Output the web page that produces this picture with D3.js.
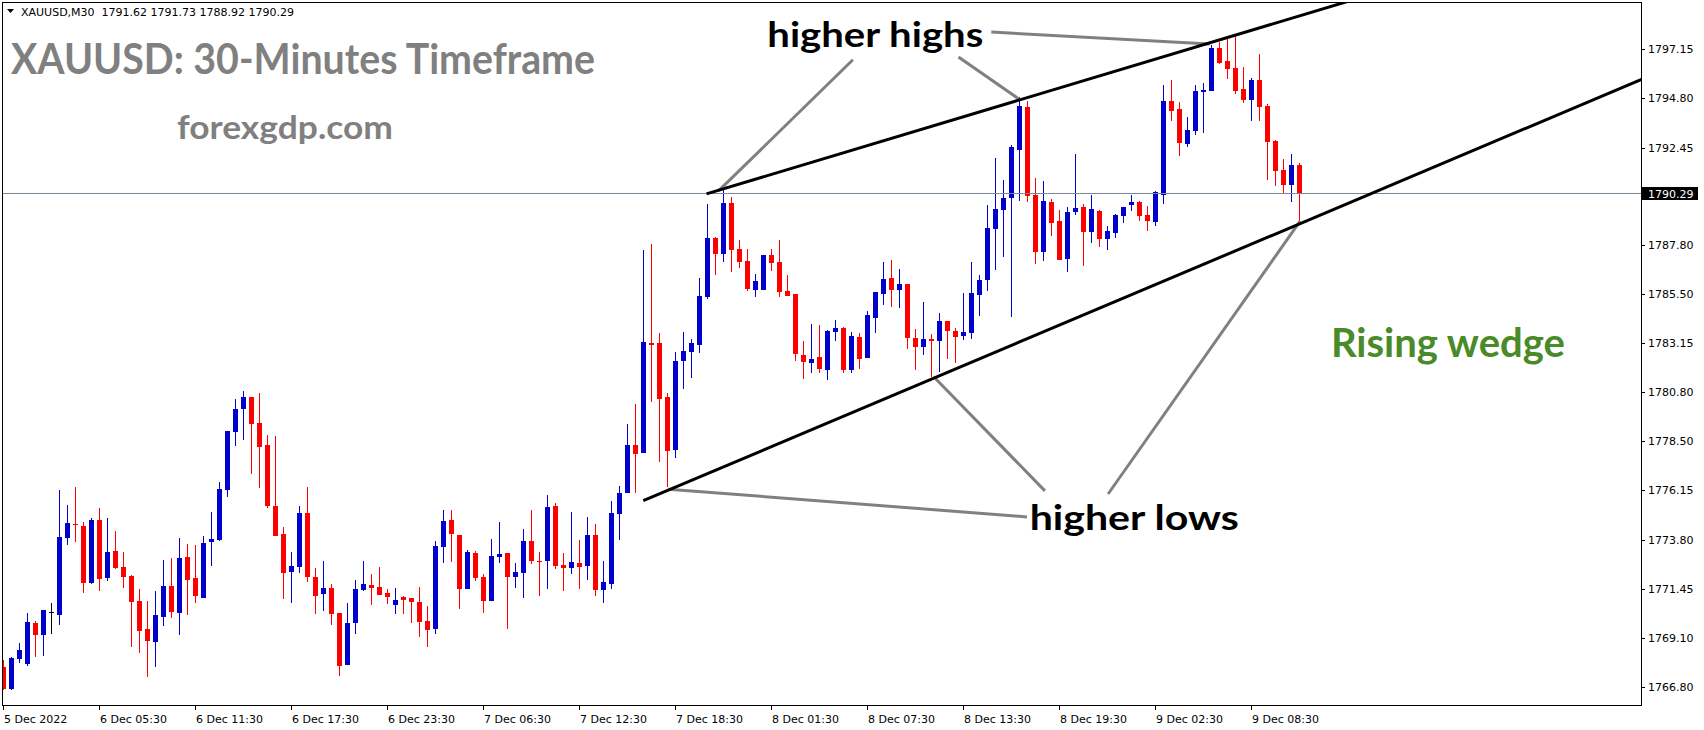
<!DOCTYPE html>
<html>
<head>
<meta charset="utf-8">
<script src="https://cdn.jsdelivr.net/npm/d3@7"></script>
<style>
html, body { margin: 0; padding: 0; background: #fff; }
svg { display: block; }
</style>
</head>
<body>
<svg id="chart" width="1704" height="730"></svg>
<script>
// XAUUSD M30 bars (bar 0 = first visible bar)
var opens = [1767.74,1766.71,1768.14,1767.90,1769.83,1769.28,1770.34,1770.23,1773.89,1774.56,
  1774.45,1771.72,1774.73,1771.99,1773.26,1772.50,1772.07,1770.88,1769.55,1768.94,
  1770.13,1771.59,1770.32,1772.97,1771.97,1771.04,1773.70,1773.78,1776.17,1778.93,
  1780.02,1780.59,1779.35,1778.31,1775.40,1774.07,1772.26,1772.50,1775.07,1772.03,
  1771.22,1771.50,1770.31,1767.84,1769.84,1771.41,1771.65,1771.55,1771.27,1770.69,
  1771.07,1771.03,1770.84,1769.93,1769.55,1773.45,1774.74,1774.02,1771.47,1773.17,
  1772.03,1770.90,1772.99,1773.17,1772.04,1772.23,1773.74,1772.79,1772.80,1775.40,
  1772.60,1772.47,1772.69,1772.56,1774.02,1771.42,1771.71,1775.04,1776.03,1778.28,
  1777.94,1783.14,1783.14,1780.58,1778.08,1782.31,1782.74,1783.08,1785.34,1788.15,
  1787.40,1789.82,1787.63,1787.06,1785.69,1785.69,1787.34,1787.02,1785.63,1785.49,
  1782.59,1782.22,1782.49,1781.89,1783.70,1783.87,1781.89,1783.44,1782.46,1784.36,
  1785.50,1786.25,1785.70,1785.96,1783.40,1782.98,1783.35,1783.27,1784.20,1783.73,
  1783.51,1783.65,1785.46,1786.16,1788.60,1789.50,1790.07,1792.35,1794.39,1790.20,
  1787.50,1789.86,1788.96,1787.17,1789.40,1789.61,1788.45,1789.44,1788.12,1788.40,
  1789.21,1789.74,1789.86,1789.25,1788.90,1790.22,1794.69,1794.29,1792.64,1793.26,
  1795.12,1795.16,1797.19,1796.57,1796.24,1795.24,1794.74,1795.67,1794.43,1792.77,
  1791.39,1790.69,1791.62];
var highs = [1768.07,1768.22,1768.88,1770.31,1769.93,1770.45,1770.78,1776.16,1775.45,1776.30,
  1774.64,1774.83,1775.30,1774.83,1774.21,1773.21,1772.12,1771.45,1770.88,1771.36,
  1772.83,1772.93,1773.88,1773.59,1773.54,1773.97,1775.11,1776.54,1778.97,1780.50,
  1780.88,1780.59,1780.78,1778.78,1778.74,1774.41,1773.22,1775.40,1776.31,1772.45,
  1772.79,1771.69,1770.31,1770.79,1771.88,1772.79,1772.17,1772.50,1771.46,1771.50,
  1771.12,1771.03,1771.55,1770.65,1773.74,1775.21,1775.21,1774.02,1773.31,1773.26,
  1772.17,1773.83,1774.64,1773.17,1772.69,1774.31,1775.21,1773.21,1775.93,1775.55,
  1773.17,1775.12,1773.79,1774.88,1774.55,1772.79,1775.64,1776.35,1779.30,1780.25,
  1787.58,1787.86,1783.63,1780.77,1782.73,1783.68,1783.36,1786.25,1789.77,1788.21,
  1790.43,1790.10,1788.06,1787.63,1786.44,1787.34,1787.63,1788.06,1786.39,1785.49,
  1783.25,1784.06,1784.01,1783.78,1784.25,1783.92,1783.68,1783.63,1784.68,1785.58,
  1787.01,1787.11,1786.68,1785.96,1783.82,1785.11,1783.59,1784.58,1784.20,1783.87,
  1785.54,1787.01,1786.39,1789.72,1791.96,1790.91,1792.58,1794.85,1794.67,1791.01,
  1790.86,1790.01,1789.48,1789.63,1792.15,1789.77,1790.20,1789.48,1788.72,1789.29,
  1789.63,1790.20,1789.91,1789.67,1790.40,1795.43,1795.67,1794.64,1793.91,1795.43,
  1795.53,1797.34,1797.48,1797.67,1797.81,1796.30,1795.77,1796.91,1794.53,1792.82,
  1791.91,1792.15,1791.73];
var lows = [1766.65,1766.65,1767.95,1767.80,1768.23,1768.28,1769.33,1769.75,1773.56,1773.70,
  1771.28,1771.69,1771.37,1771.85,1772.42,1771.51,1768.69,1768.42,1767.28,1767.76,
  1769.71,1770.09,1769.28,1770.23,1770.80,1771.04,1772.56,1773.73,1775.85,1778.23,
  1778.55,1776.93,1776.26,1775.31,1773.98,1770.98,1770.79,1772.22,1771.79,1770.27,
  1770.41,1769.74,1767.32,1767.84,1769.31,1771.36,1770.69,1771.17,1770.74,1770.27,
  1770.27,1769.84,1769.17,1768.70,1769.31,1772.69,1772.74,1770.52,1771.47,1771.85,
  1770.33,1770.90,1772.69,1769.57,1771.52,1771.04,1772.66,1771.14,1771.47,1772.42,
  1771.37,1772.18,1771.47,1771.90,1771.14,1770.76,1771.47,1773.80,1776.03,1776.03,
  1777.94,1780.36,1777.51,1776.32,1777.70,1780.98,1781.50,1782.69,1785.26,1786.41,
  1787.02,1786.55,1786.72,1785.64,1785.36,1785.69,1786.60,1785.36,1785.41,1782.31,
  1781.46,1781.75,1781.75,1781.41,1783.27,1781.75,1781.75,1781.94,1782.46,1783.65,
  1784.98,1784.89,1784.84,1782.89,1781.89,1782.56,1781.56,1781.79,1782.41,1782.22,
  1783.30,1783.36,1784.46,1785.65,1786.64,1787.26,1784.41,1789.93,1789.88,1786.93,
  1787.07,1788.26,1787.12,1786.55,1789.26,1786.84,1787.93,1787.74,1787.60,1788.17,
  1788.88,1789.45,1788.98,1788.50,1788.70,1789.79,1793.74,1792.07,1792.50,1793.07,
  1793.16,1795.16,1796.45,1795.73,1795.02,1794.59,1793.74,1793.74,1790.93,1790.64,
  1790.26,1789.88,1788.92];
var closes = [1766.71,1768.17,1768.55,1769.88,1769.28,1770.45,1770.34,1773.92,1774.59,1774.51,
  1771.75,1774.73,1771.94,1773.21,1772.45,1772.04,1770.83,1769.47,1768.99,1770.21,
  1771.59,1770.37,1772.93,1771.89,1771.13,1773.64,1773.83,1776.21,1778.97,1780.02,
  1780.59,1779.31,1778.21,1775.40,1773.98,1772.22,1772.55,1775.07,1772.03,1771.12,
  1771.50,1770.27,1767.79,1769.84,1771.46,1771.69,1771.50,1771.17,1771.07,1770.93,
  1770.93,1770.84,1769.89,1769.50,1773.50,1774.69,1774.09,1771.47,1773.21,1771.99,
  1770.90,1773.02,1773.12,1772.04,1772.26,1773.74,1772.80,1772.75,1775.36,1772.56,
  1772.47,1772.74,1772.52,1774.02,1771.42,1771.79,1775.07,1776.02,1778.30,1777.89,
  1783.19,1783.08,1780.50,1778.03,1782.28,1782.76,1783.14,1785.39,1788.15,1787.40,
  1789.82,1787.60,1787.02,1785.74,1786.10,1787.34,1786.98,1785.60,1785.41,1782.65,
  1782.27,1782.40,1781.94,1783.73,1783.87,1781.89,1783.49,1782.41,1784.49,1785.58,
  1786.20,1785.70,1785.96,1783.41,1782.98,1783.35,1783.27,1784.20,1783.74,1783.46,
  1783.68,1785.54,1786.16,1788.61,1789.52,1790.04,1792.48,1794.43,1790.17,1787.50,
  1789.91,1788.88,1787.12,1789.39,1789.58,1788.45,1789.52,1788.12,1788.48,1789.25,
  1789.63,1789.86,1789.21,1788.98,1790.34,1794.69,1794.21,1792.69,1793.29,1795.15,
  1795.20,1797.19,1796.50,1796.21,1795.16,1794.72,1795.67,1794.40,1792.74,1791.36,
  1790.69,1791.63,1790.29];

var symbol = "XAUUSD,M30";
var lastPrice = 1790.29;
var priceTicks = [1797.15, 1794.80, 1792.45, 1787.80, 1785.50, 1783.15, 1780.80,
  1778.50, 1776.15, 1773.80, 1771.45, 1769.10, 1766.80];
var timeTickBars = [0, 12, 24, 36, 48, 60, 72, 84, 96, 108, 120, 132, 144, 156];
var timeTickLabels = ["5 Dec 2022", "6 Dec 05:30", "6 Dec 11:30", "6 Dec 17:30",
  "6 Dec 23:30", "7 Dec 06:30", "7 Dec 12:30", "7 Dec 18:30", "8 Dec 01:30",
  "8 Dec 07:30", "8 Dec 13:30", "8 Dec 19:30", "9 Dec 02:30", "9 Dec 08:30"];

// trend lines, [bar, price]
var upperLine = [[87.9, 1790.25], [170, 1799.63]];
var lowerLine = [[80, 1775.65], [206.5, 1795.97]];
var pointerLines = [
  [[106.2, 1796.63], [89.4, 1790.39]],
  [[119.4, 1796.76], [127.0, 1794.75]],
  [[123.5, 1797.95], [150.8, 1797.38]],
  [[127.96, 1774.88], [83.1, 1776.20]],
  [[130.2, 1776.12], [116.3, 1781.55]],
  [[138.1, 1775.97], [162.1, 1788.95]]
];
var notes = [
  { text: "higher highs", bar: 95.5, price: 1797.25, size: 34, len: 216, color: "#000" },
  { text: "higher lows", bar: 128.3, price: 1774.26, size: 34, len: 209, color: "#000" },
  { text: "Rising wedge", bar: 165.95, price: 1782.47, size: 40, len: 234, color: "#4a8a28" }
];

var svg = d3.select("#chart");
var plotL = 2, plotR = 1641, plotT = 2, plotB = 705;

var x = d3.scaleLinear().domain([0, 206]).range([3.3, 3.3 + 8 * 206]);
var y = d3.scaleLinear().domain([1765.93, 1799.38]).range([plotB, plotT]);

var bars = opens.map(function(o, i) {
  return { i: i, o: o, h: highs[i], l: lows[i], c: closes[i] };
});

svg.append("defs").append("clipPath").attr("id", "plot")
  .append("rect").attr("x", plotL).attr("y", plotT)
  .attr("width", plotR - plotL).attr("height", plotB - plotT);

var plot = svg.append("g").attr("clip-path", "url(#plot)");

function barColor(d) {
  if (d.c > d.o) return "#0000cd";
  if (d.c < d.o) return "#ff0000";
  return "#000";
}

var candles = plot.append("g").attr("shape-rendering", "crispEdges");
candles.selectAll("rect.wick").data(bars).enter().append("rect")
  .attr("class", "wick")
  .attr("x", function(d) { return Math.round(x(d.i)); })
  .attr("width", 1)
  .attr("y", function(d) { return Math.round(y(d.h)); })
  .attr("height", function(d) { return Math.max(1, Math.round(y(d.l)) - Math.round(y(d.h))); })
  .attr("fill", barColor);

candles.selectAll("rect.body").data(bars).enter().append("rect")
  .attr("class", "body")
  .attr("x", function(d) { return Math.round(x(d.i)) - 2; })
  .attr("width", 5)
  .attr("y", function(d) { return Math.round(y(Math.max(d.o, d.c))); })
  .attr("height", function(d) {
    return Math.max(1, Math.round(y(Math.min(d.o, d.c))) - Math.round(y(Math.max(d.o, d.c))));
  })
  .attr("fill", barColor);

// current price line
plot.append("line")
  .attr("x1", plotL).attr("x2", plotR)
  .attr("y1", Math.round(y(lastPrice)) + 0.5).attr("y2", Math.round(y(lastPrice)) + 0.5)
  .attr("stroke", "#778899").attr("stroke-width", 1);

var line = d3.line()
  .x(function(p) { return x(p[0]); })
  .y(function(p) { return y(p[1]); });

plot.selectAll("path.pointer").data(pointerLines).enter().append("path")
  .attr("class", "pointer")
  .attr("d", line)
  .attr("stroke", "#808080").attr("stroke-width", 3).attr("fill", "none");

plot.selectAll("path.trend").data([upperLine, lowerLine]).enter().append("path")
  .attr("class", "trend")
  .attr("d", line)
  .attr("stroke", "#000").attr("stroke-width", 3).attr("fill", "none");

plot.selectAll("text.note").data(notes).enter().append("text")
  .attr("class", "note")
  .attr("x", function(d) { return x(d.bar); })
  .attr("y", function(d) { return y(d.price); })
  .attr("font-family", "Lato, 'Open Sans', sans-serif")
  .attr("font-weight", "bold")
  .attr("font-size", function(d) { return d.size; })
  .attr("textLength", function(d) { return d.len; })
  .attr("lengthAdjust", "spacingAndGlyphs")
  .attr("fill", function(d) { return d.color; })
  .text(function(d) { return d.text; });

// labels pinned to the window
svg.append("text")
  .attr("x", 11).attr("y", 74)
  .attr("font-family", "Lato, sans-serif").attr("font-weight", "bold")
  .attr("font-size", 42).attr("fill", "#808080")
  .attr("textLength", 584).attr("lengthAdjust", "spacingAndGlyphs")
  .text("XAUUSD: 30-Minutes Timeframe");

svg.append("text")
  .attr("x", 177).attr("y", 139)
  .attr("font-family", "Lato, sans-serif").attr("font-weight", "bold")
  .attr("font-size", 32).attr("fill", "#808080")
  .attr("textLength", 216).attr("lengthAdjust", "spacingAndGlyphs")
  .text("forexgdp.com");

// header
svg.append("path").attr("d", "M7,9 L14,9 L10.5,13 Z").attr("fill", "#000");
svg.append("text")
  .attr("x", 21).attr("y", 16)
  .attr("font-family", "'DejaVu Sans', sans-serif").attr("font-size", 11)
  .attr("fill", "#000")
  .style("white-space", "pre")
  .text(symbol + "  " + [opens[162], highs[162], lows[162], closes[162]].map(function(v) { return v.toFixed(2); }).join(" "));

// frame
svg.append("rect")
  .attr("x", plotL + 0.5).attr("y", plotT + 0.5)
  .attr("width", plotR - plotL).attr("height", plotB - plotT)
  .attr("fill", "none").attr("stroke", "#000").attr("stroke-width", 1)
  .attr("shape-rendering", "crispEdges");

// price axis
var pa = svg.append("g").attr("shape-rendering", "crispEdges");
pa.selectAll("line").data(priceTicks).enter().append("line")
  .attr("x1", plotR).attr("x2", plotR + 4)
  .attr("y1", function(d) { return Math.round(y(d)) + 0.5; })
  .attr("y2", function(d) { return Math.round(y(d)) + 0.5; })
  .attr("stroke", "#000");
svg.selectAll("text.ptick").data(priceTicks).enter().append("text")
  .attr("class", "ptick")
  .attr("x", plotR + 7)
  .attr("y", function(d) { return Math.round(y(d)) + 4; })
  .attr("font-family", "'DejaVu Sans', sans-serif").attr("font-size", 11)
  .attr("fill", "#000")
  .text(function(d) { return d.toFixed(2); });

svg.append("rect")
  .attr("x", plotR + 1).attr("y", Math.round(y(lastPrice)) - 6)
  .attr("width", 56).attr("height", 13).attr("fill", "#000");
svg.append("text")
  .attr("x", plotR + 7).attr("y", Math.round(y(lastPrice)) + 5)
  .attr("font-family", "'DejaVu Sans', sans-serif").attr("font-size", 11)
  .attr("fill", "#fff")
  .text(lastPrice.toFixed(2));

// time axis
var ta = svg.append("g").attr("shape-rendering", "crispEdges");
ta.selectAll("line").data(timeTickBars).enter().append("line")
  .attr("x1", function(d) { return Math.round(x(d)) + 0.5; })
  .attr("x2", function(d) { return Math.round(x(d)) + 0.5; })
  .attr("y1", plotB).attr("y2", plotB + 5)
  .attr("stroke", "#000");
svg.selectAll("text.ttick").data(timeTickBars).enter().append("text")
  .attr("class", "ttick")
  .attr("x", function(d) { return Math.round(x(d)) + 1; })
  .attr("y", plotB + 18)
  .attr("font-family", "'DejaVu Sans', sans-serif").attr("font-size", 11)
  .attr("fill", "#000")
  .text(function(d, i) { return timeTickLabels[i]; });
</script>
</body>
</html>
